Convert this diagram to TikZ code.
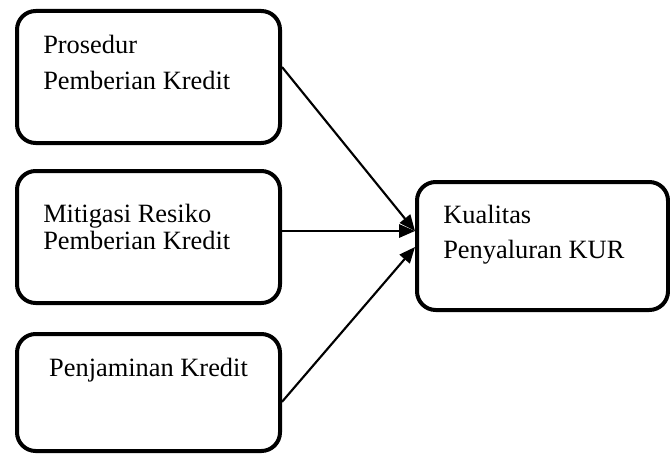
\documentclass[tikz,border=0pt]{standalone}
\usepackage{fontspec}
\setmainfont{Liberation Serif}
\usepackage{tikz}
\usetikzlibrary{arrows.meta, positioning, calc}
\tikzset{
  varbox/.style={rectangle, draw=black, line width=3pt, rounded corners=14pt,
    minimum width=197.25pt, minimum height=99pt, inner sep=0pt},
  kurbox/.style={rectangle, draw=black, line width=3pt, rounded corners=14pt,
    minimum width=188.25pt, minimum height=96pt, inner sep=0pt},
  boxtext/.style={inner sep=0pt, align=left, font=\fontsize{19.8pt}{27pt}\selectfont},
  arrow/.style={-{Triangle[length=12pt, width=10pt]}, line width=1.6pt, color=black}
}
\begin{document}
\begin{tikzpicture}[x=0.75pt, y=-0.75pt]
  \useasboundingbox (0,0) rectangle (670,453);
  % left column
  \node[varbox] (prosedur) at (148.5,77) {};
  \node[varbox, below=18pt of prosedur] (mitigasi) {};
  \node[varbox, below=20.25pt of mitigasi, minimum height=87.75pt] (penjaminan) {};
  % right box
  \node[kurbox] (kualitas) at (542.5,246) {};
  % labels
  \node[boxtext, anchor=north west] at ($(prosedur.north west)+(28,26)$) {Prosedur\\Pemberian Kredit};
  \node[boxtext, anchor=north west, font=\fontsize{19.8pt}{20.25pt}\selectfont]
    at ($(mitigasi.north west)+(28,35)$) {Mitigasi Resiko\\Pemberian Kredit};
  \node[boxtext, anchor=north] at ($(penjaminan.north)+(0,26)$) {Penjaminan Kredit};
  \node[boxtext, anchor=north west, font=\fontsize{19.8pt}{26.25pt}\selectfont]
    at ($(kualitas.north west)+(28,25)$) {Kualitas\\Penyaluran KUR};
  % arrows
  \draw[arrow] ([yshift=7.5pt]prosedur.east) -- ([yshift=11.25pt]kualitas.west);
  \draw[arrow] ([yshift=4.5pt]mitigasi.east) -- ([yshift=4.5pt]mitigasi.east -| kualitas.west);
  \draw[arrow] ([yshift=-7pt]penjaminan.east) -- ([yshift=-0.75pt]kualitas.west);
\end{tikzpicture}
\end{document}
